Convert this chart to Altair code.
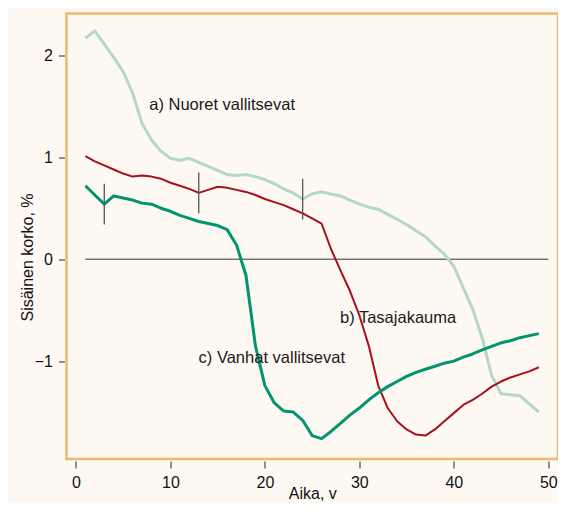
import altair as alt
import pandas as pd

# ---- data ----
years = list(range(1, 50))

nuoret = [2.17, 2.24, 2.11, 1.98, 1.84, 1.63, 1.33, 1.17, 1.06, 0.99,
          0.97, 0.99, 0.95, 0.91, 0.87, 0.83, 0.82, 0.83, 0.81, 0.78,
          0.74, 0.69, 0.65, 0.59, 0.64, 0.66, 0.64, 0.62, 0.58, 0.54,
          0.51, 0.49, 0.44, 0.39, 0.34, 0.28, 0.22, 0.13, 0.05, -0.07,
          -0.28, -0.49, -0.77, -1.14, -1.32, -1.33, -1.34, -1.42, -1.50]

tasa = [1.01, 0.96, 0.92, 0.88, 0.84, 0.81, 0.82, 0.81, 0.79, 0.75,
        0.72, 0.69, 0.65, 0.68, 0.71, 0.70, 0.68, 0.66, 0.63, 0.59,
        0.56, 0.53, 0.49, 0.45, 0.40, 0.35, 0.10, -0.11, -0.31, -0.55,
        -0.85, -1.24, -1.46, -1.59, -1.67, -1.72, -1.73, -1.67, -1.59, -1.51,
        -1.43, -1.38, -1.32, -1.25, -1.20, -1.16, -1.13, -1.10, -1.06]

vanhat = [0.72, 0.63, 0.54, 0.62, 0.60, 0.58, 0.55, 0.54, 0.50, 0.47,
          0.43, 0.40, 0.37, 0.35, 0.33, 0.29, 0.14, -0.16, -0.85, -1.24,
          -1.41, -1.49, -1.50, -1.58, -1.73, -1.76, -1.69, -1.61, -1.53, -1.46,
          -1.38, -1.31, -1.25, -1.20, -1.15, -1.11, -1.08, -1.05, -1.02, -1.00,
          -0.96, -0.93, -0.89, -0.855, -0.82, -0.80, -0.77, -0.75, -0.73]

series_names = ["a", "b", "c"]
series_colors = ["#b3d8c3", "#a50f1e", "#009470"]
series_widths = [3, 2, 3]

marker_x = [3, 13, 24]
marker_lo = [0.34, 0.45, 0.39]
marker_hi = [0.74, 0.85, 0.79]

label_text = ["a) Nuoret vallitsevat", "b) Tasajakauma", "c) Vanhat vallitsevat"]
label_x = [7.76, 27.95, 12.98]
label_y = [1.51, -0.576, -0.966]

zero_from, zero_to = [1], [50]

x_ticks = [0, 10, 20, 30, 40, 50]
y_ticks = [-1, 0, 1, 2]

FONT = "Liberation Sans"

xscale = alt.Scale(domain=[-1, 51.03], nice=False, zero=False)
yscale = alt.Scale(domain=[-1.96, 2.41], nice=False, zero=False)

xaxis = alt.Axis(values=x_ticks, title="Aika, v", domain=False, grid=False,
                 tickSize=7, tickColor="#222", offset=2, labelPadding=6,
                 labelFontSize=16, titleFontSize=16, titleFontWeight="normal",
                 labelColor="#111", titleColor="#111",
                 titleBaseline="alphabetic", titleY=37,
                 labelFont=FONT, titleFont=FONT)
yaxis = alt.Axis(values=y_ticks, title="Sisäinen korko, %", domain=False, grid=False,
                 tickSize=6, tickColor="#222", offset=2, labelPadding=6,
                 labelFontSize=16, titleFontSize=16, titleFontWeight="normal",
                 labelColor="#111", titleColor="#111", titleAngle=-90,
                 titleX=-32, titleY=243.5, titleBaseline="alphabetic",
                 titleAlign="center", labelFont=FONT, titleFont=FONT)

layers = []
zero_df = pd.DataFrame({"x": zero_from, "x2": zero_to, "y": [0]})
layers.append(alt.Chart(zero_df).mark_rule(color="#333", strokeWidth=1).encode(
    x=alt.X("x:Q", scale=xscale, axis=xaxis),
    x2="x2:Q",
    y=alt.Y("y:Q", scale=yscale, axis=yaxis),
))

for name, vals, col, w in zip(series_names, [nuoret, tasa, vanhat], series_colors, series_widths):
    df = pd.DataFrame({"x": years, "y": vals})
    layers.append(alt.Chart(df).mark_line(color=col, strokeWidth=w, strokeJoin="round").encode(
        x=alt.X("x:Q", scale=xscale, axis=xaxis),
        y=alt.Y("y:Q", scale=yscale, axis=yaxis),
    ))

mk_df = pd.DataFrame({"x": marker_x, "lo": marker_lo, "hi": marker_hi})
layers.append(alt.Chart(mk_df).mark_rule(color="#555", strokeWidth=1.3).encode(
    x=alt.X("x:Q", scale=xscale, axis=xaxis),
    y=alt.Y("lo:Q", scale=yscale, axis=yaxis),
    y2="hi:Q",
))

lab_df = pd.DataFrame({"t": label_text, "x": label_x, "y": label_y})
layers.append(alt.Chart(lab_df).mark_text(align="left", baseline="middle", fontSize=16.5,
                                          font=FONT, color="#1a1a1a").encode(
    x=alt.X("x:Q", scale=xscale, axis=xaxis),
    y=alt.Y("y:Q", scale=yscale, axis=yaxis),
    text="t:N",
))

chart = alt.layer(*layers).properties(
    width=491.5, height=445.5,
    autosize=alt.AutoSizeParams(type="none"),
    padding={"left": 58.5, "top": 5.5, "right": 0, "bottom": 44},
    background="#fdf9f2",
).configure(
    font=FONT,
    view=alt.ViewConfig(stroke="#e9ba6e", strokeWidth=2.5, fill="#fdf9f2"),
)

chart.save("out.html", embed_options={"renderer": "svg", "actions": False})
